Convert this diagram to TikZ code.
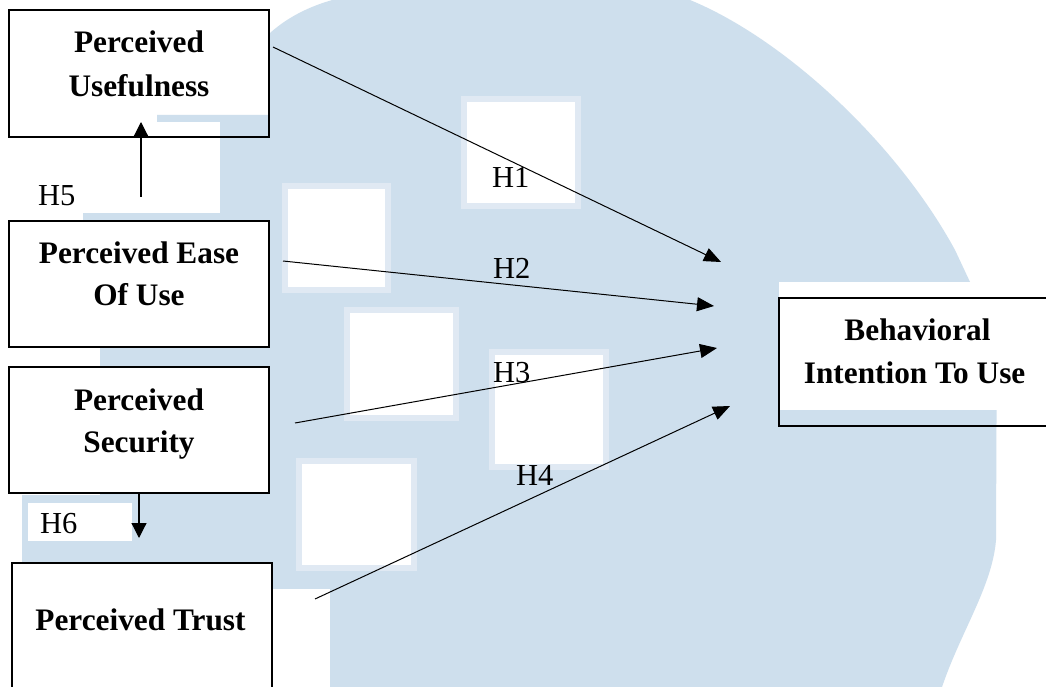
\documentclass[tikz,border=0pt]{standalone}
\usepackage{fontspec}
\setmainfont{Liberation Serif}
\usetikzlibrary{arrows.meta}
\definecolor{wm}{RGB}{206,223,237}
\definecolor{wmhalo}{RGB}{224,233,243}
\begin{document}
\begin{tikzpicture}[x=1pt,y=-1pt,
  box/.style={draw=black,line width=2pt,inner sep=0pt},
  lbl/.style={font=\fontsize{31.3}{36}\selectfont\bfseries,anchor=base,inner sep=0pt},
  hyp/.style={font=\fontsize{30.5}{34}\selectfont,anchor=base west,inner sep=0pt},
  link/.style={line width=1pt,-{Triangle[length=17pt,width=14pt]}},
  vlink/.style={line width=1.2pt,-{Triangle[length=15pt,width=15pt]}}
]
\useasboundingbox (0,0) rectangle (1046,687);
\fill[white] (0,0) rectangle (1046,687);
% watermark blob
\fill[wm] (340,-2) -- (685,-2)
  .. controls (780,35) and (895,140) .. (955,250)
  -- (970,282) -- (997,300) -- (996,540)
  .. controls (992,590) and (955,640) .. (938,700)
  -- (22,700) -- (22,495) -- (100,495) -- (100,221) -- (83,221) -- (83,213)
  -- (220,213) -- (220,122) -- (157,122) -- (157,115) -- (270,115) -- (270,33)
  .. controls (290,15) and (315,4) .. (340,-2) -- cycle;
% watermark squares
\foreach \a/\b/\c/\d in {467/102/575/203, 288/189/385/287, 350/313/453/415, 495/355/603/464, 302/464/411/565}{
  \fill[wmhalo] (\a-6,\b-6) rectangle (\c+6,\d+6);
  \fill[white] (\a,\b) rectangle (\c,\d);
}
% white fills
\fill[white] (9,221) rectangle (269,347);
\fill[white] (9,367) rectangle (269,493);
\fill[white] (28,503) rectangle (132,541);
\fill[white] (12,563) rectangle (272,700);
\fill[white] (272,589) rectangle (330,700);
\fill[white] (779,282) rectangle (1050,410);

% boxes
\node[box,minimum width=260pt,minimum height=127pt] (pu) at (139,73.5) {};
\node[box,minimum width=260pt,minimum height=126pt] (peou) at (139,284) {};
\node[box,minimum width=260pt,minimum height=126pt] (ps) at (139,430) {};
\node[box,minimum width=260pt,minimum height=126pt] (pt) at (142,626) {};
\node[box,minimum width=272pt,minimum height=128pt] (bi) at (915,362) {};

% box texts
\node[lbl] (pu1) at (139,53) {Perceived};
\node[lbl] (pu2) at (139,97) {Usefulness};
\node[lbl] (peou1) at (139,263) {Perceived Ease};
\node[lbl] (peou2) at (139,305) {Of Use};
\node[lbl] (ps1) at (139,410) {Perceived};
\node[lbl] (ps2) at (139,452) {Security};
\node[lbl] (pt1) at (140.5,630) {Perceived Trust};
\node[lbl] (bi1) at (917.5,340) {Behavioral};
\node[lbl] (bi2) at (914.6,383) {Intention To Use};

% hypothesis labels
\node[hyp] (h1) at (492,188) {H1};
\node[hyp] (h2) at (493,278) {H2};
\node[hyp] (h3) at (493,382) {H3};
\node[hyp] (h4) at (516,485) {H4};
\node[hyp] (h5) at (38,205) {H5};
\node[hyp] (h6) at (40,533) {H6};

% connector ends
\coordinate (h1s) at (273,47);  \coordinate (h1e) at (721,262);
\coordinate (h2s) at (283,261); \coordinate (h2e) at (714,306);
\coordinate (h3s) at (295,423); \coordinate (h3e) at (717,348);
\coordinate (h4s) at (315,599); \coordinate (h4e) at (730,406);
\coordinate (h5s) at (141,197); \coordinate (h5e) at (141,122);
\coordinate (h6s) at (139,493); \coordinate (h6e) at (139,538);

\draw[link] (h1s) -- (h1e);
\draw[link] (h2s) -- (h2e);
\draw[link] (h3s) -- (h3e);
\draw[link] (h4s) -- (h4e);
\draw[vlink] (h5s) -- (h5e);
\draw[vlink] (h6s) -- (h6e);
\end{tikzpicture}
\end{document}
